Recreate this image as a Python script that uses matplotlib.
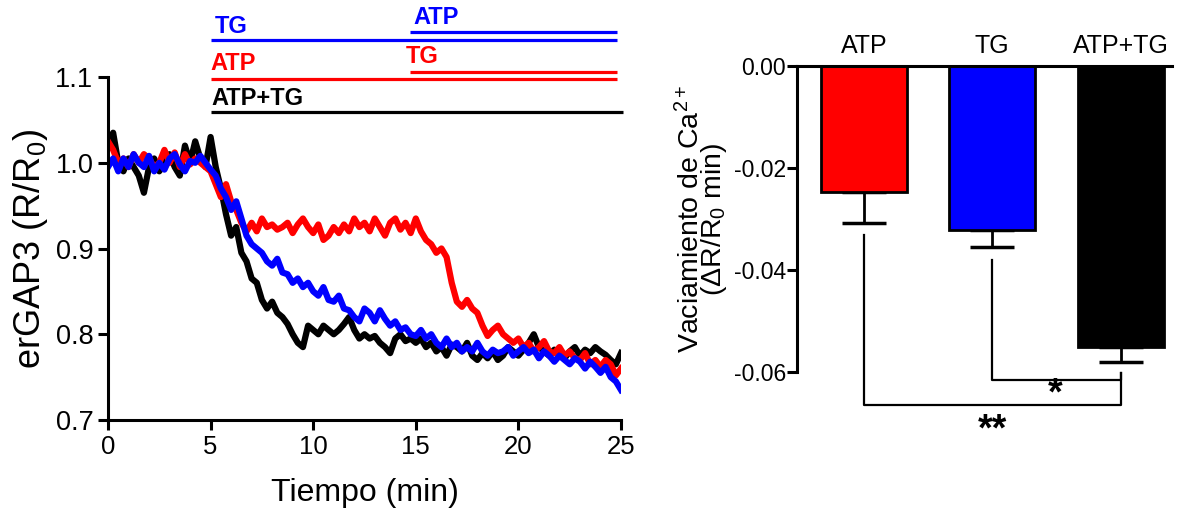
import matplotlib
matplotlib.use('agg')
import matplotlib.pyplot as plt
import numpy as np

plt.rcParams['font.family'] = ['Liberation Sans', 'DejaVu Sans']
plt.rcParams['mathtext.fontset'] = 'custom'
plt.rcParams['mathtext.rm'] = 'Liberation Sans'
plt.rcParams['mathtext.it'] = 'Liberation Sans:italic'
plt.rcParams['mathtext.bf'] = 'Liberation Sans:bold'

# time traces, one value every 0.25 min from 0 to 25 min
tiempo = np.arange(101) * 0.25

atp_tg = [1.020, 1.035, 1.000, 0.990, 1.005, 0.995, 0.985, 0.965, 0.995, 1.005,
          0.990, 1.000, 1.010, 0.995, 0.985, 1.020, 1.000, 1.025, 1.005, 0.995,
          1.030, 0.995, 0.970, 0.940, 0.915, 0.925, 0.895, 0.885, 0.865, 0.860,
          0.840, 0.830, 0.838, 0.825, 0.820, 0.812, 0.800, 0.790, 0.785, 0.810,
          0.805, 0.800, 0.810, 0.805, 0.800, 0.805, 0.812, 0.820, 0.805, 0.795,
          0.800, 0.795, 0.798, 0.790, 0.785, 0.778, 0.795, 0.800, 0.792, 0.795,
          0.790, 0.795, 0.785, 0.790, 0.780, 0.785, 0.775, 0.788, 0.785, 0.780,
          0.790, 0.775, 0.770, 0.778, 0.772, 0.780, 0.770, 0.775, 0.785, 0.780,
          0.775, 0.782, 0.790, 0.800, 0.785, 0.780, 0.775, 0.782, 0.778, 0.772,
          0.780, 0.785, 0.775, 0.782, 0.778, 0.785, 0.780, 0.776, 0.770, 0.765,
          0.778]

atp_luego_tg = [1.025, 1.015, 1.000, 1.005, 0.995, 1.010, 1.000, 1.010, 1.005, 0.995,
                1.000, 1.015, 1.000, 1.012, 0.995, 1.010, 0.998, 1.005, 1.000, 0.995,
                0.990, 0.975, 0.960, 0.975, 0.955, 0.945, 0.930, 0.920, 0.930, 0.920,
                0.935, 0.925, 0.928, 0.922, 0.925, 0.930, 0.918, 0.928, 0.935, 0.925,
                0.918, 0.928, 0.910, 0.915, 0.925, 0.918, 0.928, 0.920, 0.935, 0.925,
                0.930, 0.920, 0.935, 0.925, 0.915, 0.930, 0.935, 0.922, 0.930, 0.918,
                0.935, 0.920, 0.910, 0.905, 0.895, 0.900, 0.890, 0.860, 0.838, 0.832,
                0.840, 0.830, 0.825, 0.810, 0.798, 0.805, 0.810, 0.800, 0.795, 0.790,
                0.795, 0.785, 0.790, 0.780, 0.785, 0.792, 0.780, 0.778, 0.785, 0.775,
                0.780, 0.772, 0.770, 0.778, 0.765, 0.770, 0.762, 0.770, 0.765, 0.752,
                0.760]

tg_luego_atp = [0.995, 1.005, 0.990, 1.005, 0.995, 1.010, 1.000, 0.995, 1.008, 0.990,
                1.000, 0.992, 1.005, 1.010, 0.998, 0.990, 1.002, 1.000, 1.008, 1.000,
                0.992, 0.985, 0.970, 0.960, 0.945, 0.955, 0.935, 0.915, 0.905, 0.900,
                0.895, 0.885, 0.880, 0.888, 0.872, 0.870, 0.860, 0.865, 0.855, 0.860,
                0.850, 0.845, 0.855, 0.840, 0.838, 0.845, 0.830, 0.828, 0.820, 0.815,
                0.830, 0.825, 0.815, 0.828, 0.818, 0.810, 0.815, 0.805, 0.808, 0.800,
                0.798, 0.805, 0.795, 0.800, 0.790, 0.785, 0.795, 0.785, 0.790, 0.780,
                0.785, 0.780, 0.790, 0.780, 0.775, 0.782, 0.778, 0.780, 0.785, 0.775,
                0.780, 0.785, 0.778, 0.782, 0.772, 0.780, 0.775, 0.768, 0.775, 0.770,
                0.765, 0.772, 0.768, 0.760, 0.768, 0.762, 0.755, 0.762, 0.750, 0.745,
                0.735]

# bar panel
grupos = ['ATP', 'TG', 'ATP+TG']
medias = [-0.0247, -0.0322, -0.0551]
sem = [0.0060, 0.0033, 0.0030]
colores = ['#ff0000', '#0000ff', '#000000']

fig = plt.figure(figsize=(11.78, 5.08), dpi=100)
W, H = 1178., 508.

# ---- left: traces
ax = fig.add_axes([108/W, 1-420/H, (621-108)/W, (420-77)/H])
ax.plot(tiempo, atp_tg, color='black', lw=4.5)
ax.plot(tiempo, atp_luego_tg, color='#ff0000', lw=4.5)
ax.plot(tiempo, tg_luego_atp, color='#0000ff', lw=4.5)
ax.set_xlim(0, 25)
ax.set_ylim(0.7, 1.1)
ax.set_xticks([0, 5, 10, 15, 20, 25])
ax.set_yticks([0.7, 0.8, 0.9, 1.0, 1.1])
ax.set_yticklabels(['0.7', '0.8', '0.9', '1.0', '1.1'])
for s in ['top', 'right']:
    ax.spines[s].set_visible(False)
for s in ['left', 'bottom']:
    ax.spines[s].set_linewidth(2.2)
ax.tick_params(direction='out', length=7, width=2.2)
ax.tick_params(axis='x', labelsize=18.5)
ax.tick_params(axis='y', labelsize=19.5)
ax.set_xlabel('Tiempo (min)', fontsize=23, labelpad=14)
ax.set_ylabel('erGAP3 (R/R$_0$)', fontsize=26, labelpad=4)

# drug application bars
kw = dict(clip_on=False, lw=2.3, solid_capstyle='butt')
ax.plot([5.0, 24.8], [1.143, 1.143], color='#0000ff', **kw)
ax.plot([14.7, 24.8], [1.152, 1.152], color='#0000ff', **kw)
ax.plot([5.0, 24.8], [1.098, 1.098], color='#ff0000', **kw)
ax.plot([14.7, 24.8], [1.106, 1.106], color='#ff0000', **kw)
ax.plot([5.0, 25.1], [1.059, 1.059], color='black', **kw)
tk = dict(fontsize=17, fontweight='bold', va='bottom', ha='left')
ax.text(5.2, 1.146, 'TG', color='#0000ff', **tk)
ax.text(14.9, 1.156, 'ATP', color='#0000ff', **tk)
ax.text(5.0, 1.102, 'ATP', color='#ff0000', **tk)
ax.text(14.5, 1.110, 'TG', color='#ff0000', **tk)
ax.text(5.05, 1.062, 'ATP+TG', color='black', **tk)

# ---- right: bars
bx = fig.add_axes([797/W, 1-372/H, (1172-797)/W, (372-66)/H])
xs = np.arange(len(grupos))
bx.bar(xs, medias, width=0.67, color=colores, edgecolor='black', lw=2, zorder=2)
bx.errorbar(xs, medias, yerr=[sem, [0]*3], fmt='none', ecolor='black',
            elinewidth=2, capsize=16, capthick=2.5, zorder=1)
bx.set_xlim(-0.52, 2.40)
bx.set_ylim(-0.06, 0)
bx.set_yticks([-0.06, -0.04, -0.02, 0.0])
bx.set_yticklabels(['-0.06', '-0.04', '-0.02', '0.00'])
bx.xaxis.tick_top()
bx.set_xticks(xs)
bx.set_xticklabels(grupos)
bx.tick_params(axis='x', length=0, labelsize=18, pad=6)
bx.tick_params(axis='y', direction='out', length=7, width=2.2, labelsize=16.5,
               pad=1)
for s in ['bottom', 'right']:
    bx.spines[s].set_visible(False)
for s in ['left', 'top']:
    bx.spines[s].set_linewidth(2.2)
bx.set_ylabel('Vaciamiento de Ca$^{2+}$\n(\u0394R/R$_0$ min)', fontsize=20.5,
              labelpad=3, linespacing=0.75)

# significance brackets
bx.plot([0, 0, 2, 2], [-0.0331, -0.0665, -0.0665, -0.0602], color='black',
        lw=1.6, clip_on=False)
bx.plot([1, 1, 2, 2], [-0.0380, -0.0616, -0.0616, -0.0602], color='black',
        lw=1.6, clip_on=False)
bx.text(1.49, -0.0645, '*', fontsize=27, fontweight='bold', ha='center',
        va='center', clip_on=False)
bx.text(1.0, -0.0714, '**', fontsize=27, fontweight='bold', ha='center',
        va='center', clip_on=False)

fig.savefig('out.png', dpi=100)
